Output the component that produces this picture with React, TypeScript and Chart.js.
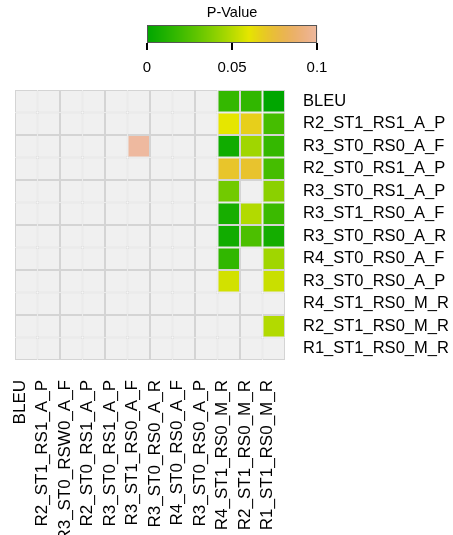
import { useEffect, useRef } from "react";
import { Chart, registerables } from "chart.js";

Chart.register(...registerables);

const columnLabels = [
  "BLEU",
  "R2_ST1_RS1_A_P",
  "R3_ST0_RSW0_A_F",
  "R2_ST0_RS1_A_P",
  "R3_ST0_RS1_A_P",
  "R3_ST1_RS0_A_F",
  "R3_ST0_RS0_A_R",
  "R4_ST0_RS0_A_F",
  "R3_ST0_RS0_A_P",
  "R4_ST1_RS0_M_R",
  "R2_ST1_RS0_M_R",
  "R1_ST1_RS0_M_R",
];

const rowLabels = [
  "BLEU",
  "R2_ST1_RS1_A_P",
  "R3_ST0_RS0_A_F",
  "R2_ST0_RS1_A_P",
  "R3_ST0_RS1_A_P",
  "R3_ST1_RS0_A_F",
  "R3_ST0_RS0_A_R",
  "R4_ST0_RS0_A_F",
  "R3_ST0_RS0_A_P",
  "R4_ST1_RS0_M_R",
  "R2_ST1_RS0_M_R",
  "R1_ST1_RS0_M_R",
];

// p-values per row (null = not significant / empty cell)
const pBLEU = [null, null, null, null, null, null, null, null, null, 0.017, 0.016, 0.0];
const pR2_ST1_RS1_A_P = [null, null, null, null, null, null, null, null, null, 0.06, 0.067, 0.022];
const pR3_ST0_RS0_A_F = [null, null, null, null, null, 0.1, null, null, null, 0.0056, 0.045, 0.017];
const pR2_ST0_RS1_A_P = [null, null, null, null, null, null, null, null, null, 0.071, 0.072, 0.022];
const pR3_ST0_RS1_A_P = [null, null, null, null, null, null, null, null, null, 0.034, null, 0.04];
const pR3_ST1_RS0_A_F = [null, null, null, null, null, null, null, null, null, 0.008, 0.049, 0.019];
const pR3_ST0_RS0_A_R = [null, null, null, null, null, null, null, null, null, 0.006, 0.024, 0.007];
const pR4_ST0_RS0_A_F = [null, null, null, null, null, null, null, null, null, 0.016, null, 0.045];
const pR3_ST0_RS0_A_P = [null, null, null, null, null, null, null, null, null, 0.056, null, 0.054];
const pR4_ST1_RS0_M_R = [null, null, null, null, null, null, null, null, null, null, null, null];
const pR2_ST1_RS0_M_R = [null, null, null, null, null, null, null, null, null, null, null, 0.049];
const pR1_ST1_RS0_M_R = [null, null, null, null, null, null, null, null, null, null, null, null];

const pRows = [
  pBLEU,
  pR2_ST1_RS1_A_P,
  pR3_ST0_RS0_A_F,
  pR2_ST0_RS1_A_P,
  pR3_ST0_RS1_A_P,
  pR3_ST1_RS0_A_F,
  pR3_ST0_RS0_A_R,
  pR4_ST0_RS0_A_F,
  pR3_ST0_RS0_A_P,
  pR4_ST1_RS0_M_R,
  pR2_ST1_RS0_M_R,
  pR1_ST1_RS0_M_R,
];

const colorbarTitle = "P-Value";
const colorbarTicks = [0, 0.05, 0.1];
const colorbarMin = 0;
const colorbarMax = 0.1;

const EMPTY = "#f0f0f0";
const FONT = "'Liberation Sans', Arial, sans-serif";

function hsvToRgb(h: number, s: number, v: number): string {
  const c = v * s;
  const hp = (h % 360) / 60;
  const x = c * (1 - Math.abs((hp % 2) - 1));
  let r = 0, g = 0, b = 0;
  if (hp < 1) { r = c; g = x; }
  else if (hp < 2) { r = x; g = c; }
  else if (hp < 3) { g = c; b = x; }
  else if (hp < 4) { g = x; b = c; }
  else if (hp < 5) { r = x; b = c; }
  else { r = c; b = x; }
  const m = v - c;
  const to = (u: number) => Math.round((u + m) * 255);
  return `rgb(${to(r)},${to(g)},${to(b)})`;
}

// terrain-like palette
function pColor(p: number | null): string {
  if (p === null || p === undefined) return EMPTY;
  const t = Math.max(0, Math.min(1, p / 0.12));
  if (t <= 0.5) {
    const f = t / 0.5;
    return hsvToRgb(120 - 60 * f, 1, 0.65 + 0.25 * f);
  }
  const f = (t - 0.5) / 0.5;
  return hsvToRgb(60 - 60 * f, 1 - f, 0.9 + 0.05 * f);
}

const colorbarPlugin = {
  id: "colorbar",
  afterDraw(chart: any) {
    const ctx = chart.ctx as CanvasRenderingContext2D;
    const x0 = 147, x1 = 317, y0 = 25, y1 = 43;
    ctx.save();
    const w = x1 - x0;
    for (let i = 0; i < w; i++) {
      const v = colorbarMin + ((i + 0.5) / w) * (colorbarMax - colorbarMin);
      ctx.fillStyle = pColor(v);
      ctx.fillRect(x0 + i, y0, 1.2, y1 - y0);
    }
    ctx.strokeStyle = "#555";
    ctx.lineWidth = 1;
    ctx.strokeRect(x0 + 0.5, y0 + 0.5, w - 1, y1 - y0 - 1);
    ctx.strokeStyle = "#000";
    ctx.lineWidth = 2;
    ctx.fillStyle = "#000";
    ctx.font = `15px ${FONT}`;
    ctx.textAlign = "center";
    ctx.textBaseline = "middle";
    for (const t of colorbarTicks) {
      const x = x0 + ((t - colorbarMin) / (colorbarMax - colorbarMin)) * w;
      ctx.beginPath();
      ctx.moveTo(x, y1);
      ctx.lineTo(x, y1 + 7);
      ctx.stroke();
      ctx.fillText(String(t), x, 68);
    }
    ctx.font = `14.5px ${FONT}`;
    ctx.fillText(colorbarTitle, (x0 + x1) / 2, 13);
    ctx.restore();
  },
};

export default function App() {
  const ref = useRef<HTMLCanvasElement | null>(null);
  useEffect(() => {
    if (!ref.current) return;
    const datasets = pRows.map((row, r) => ({
      label: rowLabels[r],
      data: row.map(() => 1),
      backgroundColor: row.map((p) => pColor(p)),
      borderColor: "#d4d4d4",
      borderWidth: 1,
      borderSkipped: false as const,
      inflateAmount: 0,
      barPercentage: 1,
      categoryPercentage: 1,
    }));
    const chart = new Chart(ref.current, {
      type: "bar",
      data: { labels: columnLabels, datasets },
      plugins: [colorbarPlugin],
      options: {
        responsive: false,
        animation: false,
        devicePixelRatio: 1,
        events: [],
        layout: { padding: { top: 90, left: 15, right: 0, bottom: 0 } },
        plugins: { legend: { display: false }, tooltip: { enabled: false }, title: { display: false } },
        scales: {
          x: {
            type: "category",
            stacked: true,
            offset: true,
            grid: { display: false, drawTicks: false },
            border: { display: false },
            ticks: {
              autoSkip: false,
              minRotation: 90,
              maxRotation: 90,
              padding: 20,
              labelOffset: -6,
              color: "#000",
              font: { family: FONT, size: 17 },
            },
            afterFit: (s: any) => { s.height = 175; },
          },
          y: {
            type: "linear",
            stacked: true,
            min: 0,
            max: 12,
            reverse: true,
            display: false,
          },
          y2: {
            type: "category",
            labels: rowLabels,
            position: "right",
            offset: true,
            grid: { display: false, drawTicks: false },
            border: { display: false },
            ticks: {
              autoSkip: false,
              padding: 18,
              color: "#000",
              font: { family: FONT, size: 16.5 },
            },
            afterFit: (s: any) => { s.width = 168; },
          },
        },
      } as any,
    });
    return () => chart.destroy();
  }, []);
  return (
    <div style={{ position: "absolute", left: 0, top: 0, width: 453, height: 535, background: "#fff" }}>
      <canvas ref={ref} width={453} height={535} style={{ display: "block" }} />
    </div>
  );
}
